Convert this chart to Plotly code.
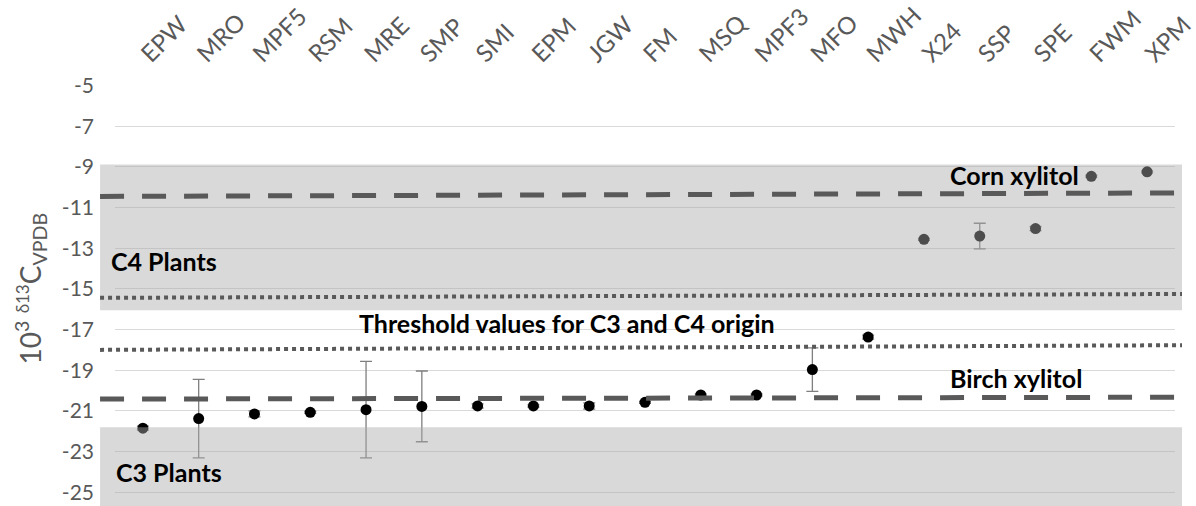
import plotly.graph_objects as go

# Xylitol samples and their delta-13C values (per mil, VPDB)
samples = ["EPW", "MRO", "MPF5", "RSM", "MRE", "SMP", "SMI", "EPM", "JGW", "FM",
           "MSQ", "MPF3", "MFO", "MWH", "X24", "SSP", "SPE", "FWM", "XPM"]
d13c = [-21.85, -21.38, -21.15, -21.07, -20.94, -20.78, -20.76, -20.76, -20.76, -20.58,
        -20.22, -20.22, -18.97, -17.37, -12.56, -12.40, -12.03, -9.46, -9.24]
d13c_err = [0.10, 1.93, 0.15, 0.05, 2.37, 1.74, 0.10, 0.05, 0.15, 0.05,
            0.05, 0.05, 1.07, 0.10, 0.05, 0.63, 0.10, 0.05, 0.05]

y_ticks = [-5, -7, -9, -11, -13, -15, -17, -19, -21, -23, -25]

# Shaded plant-type ranges (bottom, top)
c4_band = [-16.05, -8.88]
c3_band = [-27.0, -21.80]

# Reference lines: value at the left and right end
corn_line = [-10.45, -10.28]
birch_line = [-20.42, -20.33]
c4_threshold = [-15.44, -15.25]
c3_threshold = [-18.00, -17.77]

GREY_TXT = "#595959"
LINE_COL = "#595959"
FONT = "Lato"

fig = go.Figure()

fig.add_trace(go.Scatter(
    x=samples, y=d13c, mode="markers",
    marker=dict(color="black", size=11),
    error_y=dict(type="data", array=d13c_err, visible=True,
                 color="#7f7f7f", thickness=1.3, width=6),
    showlegend=False, hoverinfo="x+y",
))

shapes = []
x_left, x_right = -0.0141, 1.0066
for lo, hi in (c4_band, c3_band):
    shapes.append(dict(type="rect", xref="paper", yref="y",
                       x0=x_left, x1=x_right, y0=lo, y1=hi,
                       fillcolor="rgba(171,171,171,0.45)", line=dict(width=0),
                       layer="above"))
for vals, dash, w in ((corn_line, "24px,18px", 5), (birch_line, "24px,18px", 5),
                      (c4_threshold, "4px,4px", 4), (c3_threshold, "4px,4px", 4)):
    shapes.append(dict(type="line", xref="paper", yref="y",
                       x0=x_left, x1=x_right, y0=vals[0], y1=vals[1],
                       line=dict(color=LINE_COL, width=w, dash=dash),
                       layer="above"))

label_font = dict(family=FONT, size=25, color="black", weight="bold")
annotations = [
    dict(text="C4 Plants", x=-0.006, y=-13.65, xanchor="left"),
    dict(text="C3 Plants", x=-0.001, y=-24.0, xanchor="left"),
    dict(text="Threshold values for C3 and C4 origin", x=0.228, y=-16.7, xanchor="left"),
    dict(text="Corn xylitol", x=0.786, y=-9.4, xanchor="left"),
    dict(text="Birch xylitol", x=0.786, y=-19.4, xanchor="left"),
]
for a in annotations:
    a.update(xref="paper", yref="y", yanchor="middle", showarrow=False, font=label_font)

# Vertical axis title, placed as a rotated annotation
annotations.append(dict(
    text="10<sup>3</sup> <sup><span style='font-size:17px'>δ13</span></sup>C<sub>VPDB</sub>",
    xref="paper", yref="paper", x=-0.08, y=0.515, xanchor="center", yanchor="middle",
    textangle=-90, showarrow=False, font=dict(family=FONT, size=28, color=GREY_TXT),
))

fig.update_layout(
    width=1196, height=506,
    margin=dict(l=115, r=20, t=83, b=0),
    paper_bgcolor="white", plot_bgcolor="white",
    shapes=shapes, annotations=annotations,
    xaxis=dict(side="top", tickangle=-45, range=[-0.5, len(samples) - 0.5],
               showgrid=False, showline=False, zeroline=False,
               tickfont=dict(family=FONT, size=24, color=GREY_TXT),
               ticklabelstandoff=12),
    yaxis=dict(range=[-25.68, -4.97], tickvals=y_ticks, ticktext=[str(v) for v in y_ticks],
               showgrid=True, gridcolor="#d9d9d9", gridwidth=1,
               zeroline=False, showline=False,
               tickfont=dict(family=FONT, size=21, color=GREY_TXT),
               ticklabelstandoff=20),
)

fig.write_html("out.html")
